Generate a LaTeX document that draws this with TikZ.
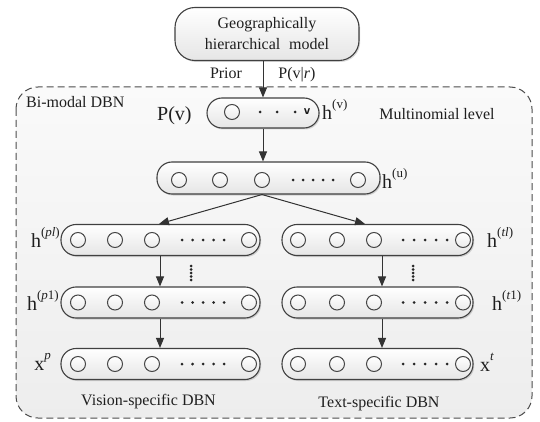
\documentclass[tikz,border=0pt]{standalone}
\usepackage{fontspec}
\setmainfont{Liberation Serif}
\usetikzlibrary{arrows.meta,shadows,calc}
\newcommand{\mysup}[1]{\raisebox{0.55em}{\fontsize{13}{13}\selectfont #1}}
\begin{document}
\begin{tikzpicture}[x=1pt,y=-1pt,
  line/.style={draw=black!80, line width=1pt},
  arr/.style={line, -{Triangle[length=10pt,width=8pt]}},
  pill/.style={draw=black!75, line width=1.1pt, rounded corners=15pt, top color=white, bottom color=black!10,
    drop shadow={shadow xshift=1.2pt, shadow yshift=-1.5pt, opacity=0.3}, inner sep=0pt},
  unit/.style={circle, draw=black!72, line width=1pt, minimum size=15pt, inner sep=0pt, top color=white, bottom color=black!8},
  lbl/.style={font=\fontsize{16}{21}\selectfont, text=black!88, inner sep=0pt},
  big/.style={font=\fontsize{20}{24}\selectfont, text=black!88, inner sep=0pt},
  dotf/.style={fill=black!85},
]
\useasboundingbox (0,0) rectangle (540,422);
% outer dashed region
\path[draw=black!70, line width=1pt, dash pattern=on 7pt off 4pt, rounded corners=22pt,
  top color=black!2, bottom color=black!7] (16,87) rectangle (532,418);
\node[lbl, anchor=base west] (bm) at (26,108) {Bi-modal DBN};

% top model
\node[pill, rounded corners=20pt, minimum width=184pt, minimum height=53pt, align=center, lbl] (ghm) at (267,34)
  {Geographically\\hierarchical\hspace{0.3em} model};
\node[lbl, anchor=base] (prior) at (226,79) {Prior};
\node[lbl, anchor=base] (pvr) at (297,79) {P(v|\textit{r})};

% multinomial level
\node[pill, minimum width=112pt, minimum height=30pt] (hv) at (263,113) {};
\node[unit] (v1) at (232,112) {};
\foreach \x in {260,277,295} \fill[dotf] (\x,112) circle (1.5pt);
\node[font=\sffamily\bfseries\fontsize{13}{13}\selectfont, text=black!90, inner sep=0pt] (vv) at (307,112) {v};
\node[big, anchor=base west] (pv) at (157,121) {P(v)};
\node[big, anchor=base west] (hvl) at (322,120) {h\mysup{(v)}};
\node[lbl, anchor=base] (ml) at (437,120) {Multinomial level};

\draw[arr] (ghm.south -| hv.north) -- (hv.north);

% joint layer
\node[pill, minimum width=223pt, minimum height=32pt] (hu) at (268.5,178) {};
\node[unit] (u1) at (179,180) {};
\node[unit] (u2) at (220,180) {};
\node[unit] (u3) at (262,180) {};
\node[unit] (u4) at (358,180) {};
\foreach \x in {293,303,313,323,333} \fill[dotf] (\x,180) circle (1.5pt);
\node[big, anchor=base west] (hul) at (382,188) {h\mysup{(u)}};
\draw[arr] (hv.south) -- (hv.south |- hu.north);

% columns
\coordinate (xl) at (160,0);
\coordinate (xr) at (382,0);
\coordinate (dl) at (159,0);
\coordinate (dr) at (365,0);
\foreach \r/\y in {1/240,2/302.5,3/364}{
  \node[pill, minimum width=199pt, minimum height=31pt] (L\r) at (160.5,\y) {};
  \node[pill, minimum width=191pt, minimum height=31pt] (R\r) at (377.5,\y) {};
  \foreach \i/\x in {1/78,2/115,3/152,4/249} \node[unit] (L\r c\i) at (\x,\y) {};
  \foreach \i/\x in {1/298,2/337,3/374,4/463} \node[unit] (R\r c\i) at (\x,\y) {};
  \foreach \x in {182,192.5,203,213.5,224} \fill[dotf] (\x,\y) circle (1.5pt);
  \foreach \x in {403,414,425,436,447} \fill[dotf] (\x,\y) circle (1.5pt);
}
\draw[arr] (hu.south -| u3) -- (L1.north -| dl);
\draw[arr] (hu.south -| u3) -- (R1.north -| dr);
\draw[arr] (L1.south -| xl) -- (L2.north -| xl);
\draw[arr] (L2.south -| xl) -- (L3.north -| xl);
\draw[arr] (R1.south -| xr) -- (R2.north -| xr);
\draw[arr] (R2.south -| xr) -- (R3.north -| xr);
\foreach \yy in {266,269.5,273,276.5,280}{
  \fill[dotf] (191,\yy) circle (1.5pt);
  \fill[dotf] (413,\yy) circle (1.5pt);
}

% labels
\node[big, anchor=base east] (hpl) at (60,247) {h\mysup{(\textit{pl})}};
\node[big, anchor=base east] (hp1) at (59,310) {h\mysup{(\textit{p}1)}};
\node[big, anchor=base east] (xp) at (51,370) {x\mysup{\textit{p}}};
\node[big, anchor=base west] (htl) at (487,247) {h\mysup{(\textit{tl})}};
\node[big, anchor=base west] (ht1) at (492,310) {h\mysup{(\textit{t}1)}};
\node[big, anchor=base west] (xt) at (480,371) {x\mysup{\textit{t}}};
\node[lbl, anchor=base] (vis) at (148.5,405) {Vision-specific DBN};
\node[lbl, anchor=base] (txt) at (379,407) {Text-specific DBN};
\end{tikzpicture}
\end{document}
